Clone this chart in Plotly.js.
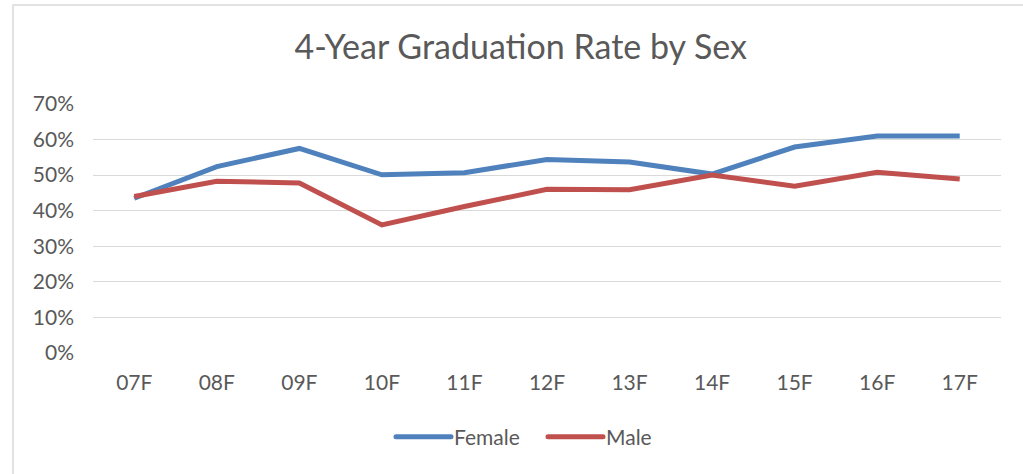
<!DOCTYPE html>
<html>
<head>
<meta charset="utf-8">
<script src="https://cdn.plot.ly/plotly-3.0.1.min.js"></script>
<style>html,body{margin:0;padding:0;background:#fff;}#chart{width:1023px;height:474px;}</style>
</head>
<body>
<div id="chart"></div>
<script>
const categories = ['07F','08F','09F','10F','11F','12F','13F','14F','15F','16F','17F'];
const female = [0.435, 0.524, 0.575, 0.501, 0.507, 0.544, 0.537, 0.503, 0.579, 0.610, 0.610];
const male   = [0.440, 0.483, 0.478, 0.360, 0.412, 0.460, 0.459, 0.500, 0.469, 0.508, 0.489];
const seriesNames = ['Female', 'Male'];

const FONT = 'Lato, Open Sans, sans-serif';
const GREY = '#595959';

const traces = [
  {x: categories, y: female, name: seriesNames[0], type: 'scatter', mode: 'lines',
   line: {color: '#4F81BD', width: 5}},
  {x: categories, y: male, name: seriesNames[1], type: 'scatter', mode: 'lines',
   line: {color: '#C0504D', width: 5}}
];

const layout = {
  width: 1023, height: 474,
  margin: {l: 93, r: 22, t: 104, b: 121},
  paper_bgcolor: '#ffffff', plot_bgcolor: '#ffffff',
  font: {family: FONT, color: GREY, size: 21},
  title: {text: '4-Year Graduation Rate by Sex', font: {family: FONT, size: 34, color: GREY},
          x: 0.509, xanchor: 'center', y: 0.9, yanchor: 'middle', yref: 'container'},
  xaxis: {type: 'category', range: [-0.5, 10.5], showgrid: false, zeroline: false,
          showline: false, ticks: '', ticklabelstandoff: 15,
          tickfont: {family: FONT, size: 21, color: GREY}, fixedrange: true},
  yaxis: {range: [0, 0.7], dtick: 0.1, tickformat: '.0%', showgrid: true,
          gridcolor: '#d9d9d9', gridwidth: 1, zeroline: false, showline: false,
          ticks: '', ticklabelstandoff: 18,
          tickfont: {family: FONT, size: 21, color: GREY}, fixedrange: true},
  showlegend: true,
  legend: {orientation: 'h', x: 0.4956, xanchor: 'center', y: -0.338, yanchor: 'middle',
           font: {family: FONT, size: 21, color: GREY}, itemwidth: 53,
           entrywidth: 84, entrywidthmode: 'pixels',
           bgcolor: 'rgba(0,0,0,0)'},
  shapes: [
    {type: 'rect', xref: 'paper', yref: 'paper', x0: -0.0881, x1: 1.06, y0: -0.6, y1: 1.3976,
     line: {color: '#d9d9d9', width: 1.5}, fillcolor: 'rgba(0,0,0,0)', layer: 'below'}
  ]
};

Plotly.newPlot('chart', traces, layout, {displayModeBar: false, staticPlot: true}).then(function(){
  document.querySelectorAll('#chart .legend .legendlines path').forEach(function(p){
    p.setAttribute('d', 'M5,0h55');
    p.style.strokeLinecap = 'round';
  });
});
</script>
</body>
</html>
